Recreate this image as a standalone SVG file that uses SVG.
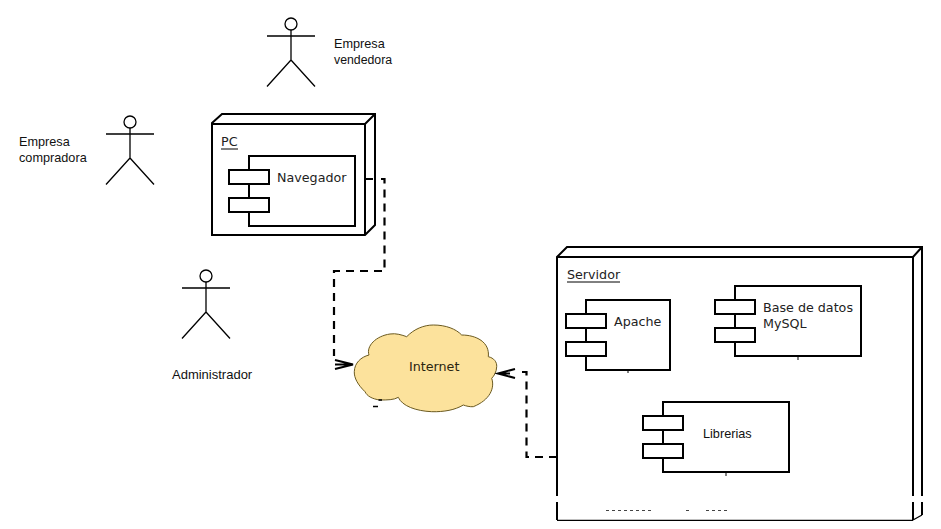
<svg xmlns="http://www.w3.org/2000/svg" width="941" height="529" viewBox="0 0 941 529">
<style>
.l{fill:none;stroke:#000;stroke-width:2}
.b{fill:#fff;stroke:#000;stroke-width:2}
.a{fill:none;stroke:#000;stroke-width:1.3}
.d{fill:none;stroke:#000;stroke-width:2.2;stroke-dasharray:8 6}
.h{fill:none;stroke:#000;stroke-width:2}
.t{font-family:"DejaVu Sans",sans-serif;font-size:12.7px;fill:#222}
.u{font-family:"Liberation Sans",Arial,sans-serif;font-size:12.7px;fill:#111}
</style>
<defs>
<g id="actor"><circle cx="0" cy="0" r="6" fill="#fff" stroke="#000" stroke-width="1.300"/><path class="a" d="M0 6V36M-24 12H24M0 36L-24 62.500M0 36L24 62.500"/></g>
</defs>
<rect width="941" height="529" fill="#fff"/>
<g id="actor-vendedora"><use href="#actor" x="291" y="24"/><text class="u" x="334" y="48">Empresa</text><text class="u" x="334" y="64" style="font-size:12.300px">vendedora</text></g>
<g id="actor-compradora"><use href="#actor" x="130" y="122"/><text class="u" x="19" y="146">Empresa</text><text class="u" x="19" y="162">compradora</text></g>
<g id="actor-administrador"><use href="#actor" x="206" y="276"/><text class="u" x="172" y="379" style="font-size:13px">Administrador</text></g>
<g id="pc">
<path class="b" d="M212 123L222 114H375V225L365 235H212Z"/>
<path class="l" d="M212 124H365V235M365 124L375 114"/>
<text class="t" x="221" y="146">PC</text><path d="M221 149H238" stroke="#000" stroke-width="1"/>
<g id="navegador"><rect class="b" x="249" y="156" width="106" height="70"/><rect class="b" x="229" y="170" width="40" height="14"/><rect class="b" x="229" y="198" width="40" height="14"/><text class="t" x="277" y="182">Navegador</text></g>
</g>
<g id="internet">
<path d="M354.300 371.700C354.500 363 361 357 369 355C366 346 376 336 390 334C396 333 402 335 406.700 336.700C414 329 424 325 433.300 325C446 325 456 329 461.700 335C476 335 490 342 488.300 356.700C494 358 497 362 496.700 366.700C496.500 372 494 376 491.700 378.300C495 388 490 400 473.300 406.700C470 407 466 406 463.300 405C455 410 444 412 431.700 411.700C416 411 402 406 398.300 397.300C394 400 387 400 380 400C372 399 367 396 365 391.700C358 385 354 378 354.300 371.700Z" fill="#fce29c" stroke="#6b5a20" stroke-width="1"/>
<path d="M353 402H378V412H353ZM360 392L372 400H360Z" fill="#fff"/>
<path d="M378.500 400H382M373 406.500H378" stroke="#000" stroke-width="1.500" fill="none"/>
<text class="t" x="409" y="371" style="fill:#2a2410">Internet</text>
</g>
<g id="servidor">
<path d="M557 257L567 247H922V515L914 520H557Z" fill="#fff"/>
<path class="l" d="M557 520V257L567 247H922V515M557 257H913V520M913 257L922 247"/>
<path d="M557 520.300H913M913 520L922 515" stroke="#000" stroke-width="1.300" fill="none"/>
<rect x="550" y="496" width="380" height="6" fill="#fff"/>
<text class="t" x="567" y="279">Servidor</text><path d="M567 282H620" stroke="#000" stroke-width="1"/>
<g id="apache"><rect class="b" x="586" y="300" width="84" height="70"/><rect class="b" x="566" y="314" width="40" height="14"/><rect class="b" x="566" y="342" width="40" height="14"/><text class="t" x="614" y="326">Apache</text></g>
<g id="mysql"><rect class="b" x="735" y="286" width="126" height="70"/><rect class="b" x="715" y="300" width="40" height="14"/><rect class="b" x="715" y="328" width="40" height="14"/><text class="t" x="763" y="312">Base de datos</text><text class="t" x="763" y="328">MySQL</text></g>
<g id="librerias"><rect class="b" x="663" y="402" width="126" height="70"/><rect class="b" x="643" y="416" width="40" height="14"/><rect class="b" x="643" y="444" width="40" height="14"/><text class="u" x="703" y="438">Librerias</text></g>
<path d="M628 371V373M798 357V360M726 473V476" stroke="#000" stroke-width="1" fill="none"/>
<path d="M606 510.500H652M686 510.500H692M706 510.500H730" stroke="#444" stroke-width="1" stroke-dasharray="3 3" fill="none"/>
</g>
<g id="connectors">
<path class="l" d="M365 179H373"/>
<path class="d" d="M381 179H384.500V271H334V356"/>
<path class="h" d="M335 360L353 364.500L335 369M335 364.500H353"/>
<path class="d" d="M557 457H526.500V372H520"/>
<path class="h" d="M515 369L498 373.500L515 378M498 373.500H510"/>
</g>
</svg>
